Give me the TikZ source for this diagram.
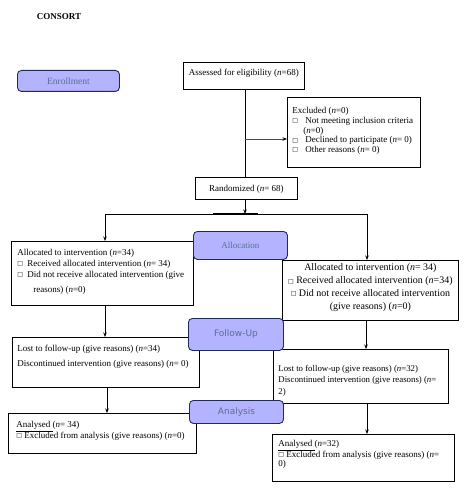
\documentclass[tikz,border=0pt]{standalone}
\usepackage{fontspec}
\setmainfont{Liberation Serif}
\newfontfamily\symf{DejaVu Sans}
\newfontfamily\sansf{DejaVu Sans}
\usetikzlibrary{arrows.meta}
\setlength{\lineskiplimit}{-20pt}
\setlength{\lineskip}{0pt}
\definecolor{lav}{HTML}{B3B3FF}
\definecolor{navy}{HTML}{1F2A5C}
\definecolor{lbl}{HTML}{587090}
\definecolor{bline}{HTML}{3344AA}
\newcommand\sq{\raisebox{0.7pt}{\symf\fontsize{6}{6}\selectfont □}}
\newcommand\bxc[4]{\parbox[c][#1pt][t]{#2pt}{\rule{0pt}{#3pt}#4}}
\tikzset{
  box/.style={draw=black, line width=0.8pt, fill=white, inner ysep=0pt, anchor=north west, font=\fontsize{9}{11}\selectfont},
  rnd/.style={draw=navy, fill=lav, line width=0.9pt, rounded corners=4pt, inner sep=0pt, anchor=north west, text=lbl},
  conn/.style={line width=0.8pt, draw=black},
  arr/.style={conn, -{Stealth[length=4.5pt,width=3.5pt,color=black]}},
}
\begin{document}
\begin{tikzpicture}[x=1pt,y=-1pt]
\useasboundingbox (0,0) rectangle (463,500);
\fill[white] (0,0) rectangle (463,500);

\node[font=\bfseries\fontsize{9}{11}\selectfont] (title) at (59,17) {CONSORT};

% rectangular boxes
\node[box, inner xsep=5pt] (assess) at (183,62)
  {\bxc{27}{111}{13}{\centering Assessed for eligibility (\textit{n}=68)}};
\node[box, inner xsep=5pt, font=\fontsize{9}{9.8}\selectfont] (excl) at (287,97)
  {\bxc{70}{123}{16}{\raggedright Excluded (\textit{n}=0)\\
   \makebox[13pt][l]{\sq}Not meeting inclusion criteria\\
   \hspace{11pt}(\textit{n}=0)\\
   \makebox[13pt][l]{\sq}Declined to participate (\textit{n}= 0)\\
   \makebox[13pt][l]{\sq}Other reasons (\textit{n}= 0)}};
\node[box, inner xsep=4pt] (rand) at (195,177)
  {\bxc{22}{94}{14}{\centering Randomized (\textit{n}= 68)}};
\node[box, inner xsep=6pt] (allocL) at (11,241)
  {\bxc{64}{170}{14}{\raggedright Allocated to intervention (\textit{n}=34)\\
   \makebox[10pt][l]{\sq}Received allocated intervention (\textit{n}= 34)\\
   \makebox[10pt][l]{\sq}Did not receive allocated intervention (give\\[4pt]
   \hspace{16pt}reasons) (\textit{n}=0)}};
\node[box, inner xsep=4pt, font=\fontsize{10}{12.8}\selectfont] (allocR) at (282,260)
  {\bxc{60}{168}{10.5}{\centering Allocated to intervention (\textit{n}= 34)\\
   \sq\ Received allocated intervention (\textit{n}=34)\\
   \sq\ Did not receive allocated intervention\\
   (give reasons) (\textit{n}=0)}};
\node[box, inner xsep=5pt, font=\fontsize{9}{15}\selectfont] (lostL) at (12,337)
  {\bxc{50}{177}{14}{\raggedright Lost to follow-up (give reasons) (\textit{n}=34)\\
   Discontinued intervention (give reasons) (\textit{n}= 0)}};
\node[box, inner xsep=5pt, font=\fontsize{8.8}{11.5}\selectfont] (lostR) at (273,349)
  {\bxc{54}{165}{22}{\raggedright Lost to follow-up (give reasons) (\textit{n}=32)\\
   Discontinued intervention (give reasons) (\textit{n}=\\
   2)}};
\node[box, inner xsep=8pt, font=\fontsize{9}{8.8}\selectfont] (anL) at (8,413)
  {\bxc{40}{172}{14}{\raggedright \underline{Analysed\ }(\textit{n}= 34)\\
   \sq\ Excluded from analysis (give reasons) (\textit{n}=0)}};
\node[box, inner xsep=6pt, font=\fontsize{9}{8.8}\selectfont] (anR) at (272,434)
  {\bxc{47}{170}{12}{\raggedright \underline{Analysed\ }(\textit{n}=32)\\
   \sq\ Excluded from analysis (give reasons) (\textit{n}=\\
   0)}};

% connector coordinates
\coordinate (v1) at (245,139);
\coordinate (split) at (245,214);
\coordinate (sL) at (105,214);
\coordinate (sR) at (367,214);
\coordinate (barL) at (213,214);
\coordinate (barR) at (258,214);
\coordinate (cL) at (107,0);
\coordinate (cR) at (366,0);

\draw[conn] (assess.south -| v1) -- (rand.north -| v1);
\draw[conn, draw=bline, -{Stealth[length=4.5pt,width=3.5pt,color=black]}] (v1) -- (v1 -| excl.west);
\draw[arr] (rand.south -| split) -- (split);
\draw[conn] (sL) -- (sR);
\draw[line width=2pt] (barL) -- (barR);
\draw[arr] (sL) -- (sL |- allocL.north);
\draw[arr] (sR) -- (sR |- allocR.north);
\draw[arr] (allocL.south -| sL) -- (lostL.north -| sL);
\draw[arr] (allocR.south -| cR) -- (lostR.north -| cR);
\draw[arr] (lostL.south -| cL) -- (anL.north -| cL);
\draw[arr] (lostR.south -| sR) -- (anR.north -| sR);

% stage labels
\node[rnd, minimum width=102pt, minimum height=21pt, font=\fontsize{9.5}{11}\selectfont] (enroll) at (17,70) {Enrollment};
\node[rnd, minimum width=94pt, minimum height=28pt, font=\fontsize{9}{11}\selectfont] (alloc) at (193,231) {Allocation};
\node[rnd, minimum width=95pt, minimum height=32pt, font=\sansf\fontsize{9}{11}\selectfont] (follow) at (188,318) {Follow-Up};
\node[rnd, minimum width=94pt, minimum height=23pt, font=\sansf\fontsize{9}{11}\selectfont] (analysis) at (189,400) {Analysis};
\end{tikzpicture}
\end{document}
